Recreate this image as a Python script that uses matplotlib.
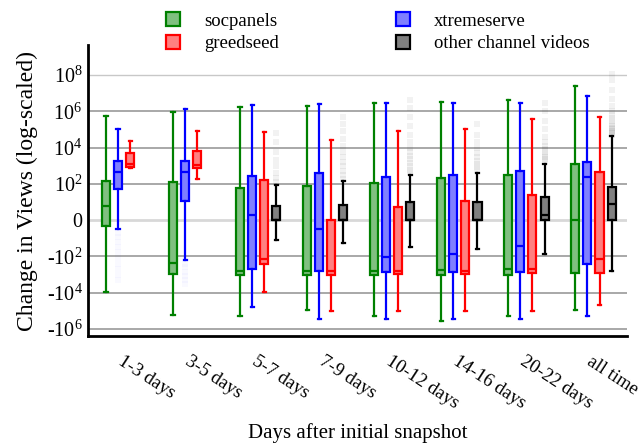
"""Grouped box plots of view changes per channel, symmetric log axis."""

import matplotlib
matplotlib.use("Agg")
import matplotlib.pyplot as plt
import matplotlib.transforms as mtransforms
import numpy as np
from matplotlib.lines import Line2D

plt.rcParams["font.family"] = ["Liberation Serif", "DejaVu Serif"]
plt.rcParams["mathtext.fontset"] = "custom"
plt.rcParams["mathtext.rm"] = "Liberation Serif"
plt.rcParams["mathtext.default"] = "regular"

categories = ["1-3 days", "3-5 days", "5-7 days", "7-9 days",
              "10-12 days", "14-16 days", "20-22 days", "all time"]

# per series: whislo, q1, med, q3, whishi for each category (None = no box)
socpanels = {
    "whishi": [5.6e5, 9e5, 1.8e6, 2e6, 2.7e6, 3.2e6, 4e6, 2.5e7],
    "q3":     [140, 128, 57, 72, 114, 200, 290, 1170],
    "med":    [5, -245, -650, -650, -650, -575, -500, 0],
    "q1":     [-1.1, -950, -1070, -1070, -1070, -1070, -1070, -790],
    "whislo": [-9000, -1.8e5, -1.95e5, -9e4, -1.95e5, -3.5e5, -1.86e5, -9e4],
}
xtremeserve = {
    "whishi": [1.1e5, 1.25e6, 2.3e6, 2.6e6, 2.95e6, 2.95e6, 2.8e6, 7e6],
    "q3":     [1700, 1860, 275, 370, 225, 300, 525, 1600],
    "med":    [450, 455, 1, -2.2, -104, -77, -25, 225],
    "q1":     [48, 10, -520, -650, -740, -710, -710, -270],
    "whislo": [-2.2, -160, -6.5e4, -3e5, -3e5, -3e5, -3e5, -1.95e5],
}
greedseed = {
    "whishi": [2.2e4, 8.3e4, 7e4, 2.6e4, 8.3e4, 1e5, 3.8e5, 4.8e5],
    "q3":     [5100, 6200, 160, 0, 4, 10.5, 23, 455],
    "med":    [1200, 1070, -140, -650, -650, -650, -500, -135],
    "q1":     [870, 790, -275, -1000, -950, -950, -870, -870],
    "whislo": [790, 190, -9000, -1e5, -1e5, -1e5, -1e5, -4.9e4],
}
other_videos = {
    "whishi": [None, None, 85, 134, 315, 410, 1300, 4.3e4],
    "q3":     [None, None, 5, 6, 9, 9, 17, 68],
    "med":    [None, None, 0, 0, 0, 0, 0.9, 6.6],
    "q1":     [None, None, 0, 0, 0, 0, 0, 0],
    "whislo": [None, None, -12, -18, -29, -37, -77, -650],
}

# faint outlier columns
other_fliers = [
    [],
    [],
    [120, 200, 400, 900, 2e3, 6e3, 2e4, 6e4],
    [180, 300, 500, 900, 1.5e3, 3e3, 6e3, 1.2e4, 3e4, 8e4, 2e5, 5e5],
    [420, 600, 900, 1.4e3, 2.2e3, 3.5e3, 6e3, 1e4, 2e4, 5e4, 1.5e5, 5e5, 1.5e6, 4e6],
    [550, 800, 1.2e3, 1.8e3, 3e3, 5e3, 9e3, 2e4, 5e4, 2e5],
    [1.7e3, 2.3e3, 3e3, 4e3, 5.5e3, 8e3, 1.2e4, 2e4, 4e4, 1e5, 3e5, 1e6, 3e6],
    [5e4, 6e4, 7e4, 8.5e4, 1e5, 1.2e5, 1.5e5, 2e5, 2.8e5, 4e5, 6e5, 1e6, 2e6,
     5e6, 1.5e7, 5e7, 1.2e8],
]
xtreme_fliers = [
    [-4, -8, -15, -30, -60, -120, -250, -500, -1000, -2000],
    [-250, -400, -700, -1200, -2000, -3500],
    [], [], [], [], [], [],
]

series = [
    ("socpanels", socpanels, "#008000", "#80c080"),
    ("xtremeserve", xtremeserve, "#0000ff", "#8080ff"),
    ("greedseed", greedseed, "#ff0000", "#ff8080"),
    ("other channel videos", other_videos, "#000000", "#808080"),
]
fliers = {"xtremeserve": (xtreme_fliers, 0.025),
          "other channel videos": (other_fliers, 0.05)}


def fwd(y):
    y = np.asarray(y, dtype=float)
    return np.sign(y) * np.log10(1.0 + np.abs(y))


def inv(t):
    t = np.asarray(t, dtype=float)
    return np.sign(t) * (10.0 ** np.abs(t) - 1.0)


fig = plt.figure(figsize=(6.44, 4.47), dpi=100)
ax = fig.add_axes([0.1366, 0.2483, 0.8370, 0.651])
ax.set_yscale("function", functions=(fwd, inv))

offsets = [-0.27, -0.09, 0.09, 0.27]
x = np.arange(len(categories))

for (name, d, edge, face), off in zip(series, offsets):
    stats, pos = [], []
    for i in range(len(categories)):
        if d["med"][i] is None:
            continue
        stats.append({
            "med": d["med"][i], "q1": d["q1"][i], "q3": d["q3"][i],
            "whislo": d["whislo"][i], "whishi": d["whishi"][i],
            "fliers": [],
        })
        pos.append(x[i] + off)
    ax.bxp(
        stats, positions=pos, widths=0.12, capwidths=0.05,
        patch_artist=True, showfliers=False, manage_ticks=False,
        boxprops=dict(facecolor=face, edgecolor=edge, linewidth=1.6),
        medianprops=dict(color=edge, linewidth=1.6),
        whiskerprops=dict(color=edge, linewidth=1.6),
        capprops=dict(color=edge, linewidth=1.6),
    )
    if name in fliers:
        flier_lists, alpha = fliers[name]
        for i, vals in enumerate(flier_lists):
            if not vals:
                continue
            ax.plot(np.full(len(vals), x[i] + off), vals, ls="none",
                    marker="s", ms=5, mew=0, color=edge, alpha=alpha,
                    zorder=1)

yticks = [1e8, 1e6, 1e4, 1e2, 0, -1e2, -1e4, -1e6]
ylabels = ["10$^{8}$", "10$^{6}$", "10$^{4}$", "10$^{2}$", "0",
           "-10$^{2}$", "-10$^{4}$", "-10$^{6}$"]
ax.set_yticks(yticks)
ax.set_yticklabels(ylabels, fontsize=14.5)
for yt in yticks:
    if yt == 0:
        ax.axhline(yt, color="#d8d8d8", lw=2.0, zorder=0)
    elif yt == 1e8:
        ax.axhline(yt, color="#c8c8c8", lw=1.0, zorder=0)
    else:
        ax.axhline(yt, color="#a8a8a8", lw=1.4, zorder=0)

ax.set_ylim(inv(-6.39), inv(9.65))
ax.set_xlim(-0.54, 7.5)
ax.set_xticks(x)
ax.set_xticklabels(categories, fontsize=13.5, rotation=-33, ha="left",
                   rotation_mode="anchor")
shift = mtransforms.ScaledTranslation(-8 / 100, 0, fig.dpi_scale_trans)
for lab in ax.get_xticklabels():
    lab.set_transform(lab.get_transform() + shift)
ax.tick_params(axis="both", length=0)
ax.tick_params(axis="x", pad=12)
ax.tick_params(axis="y", pad=4)

for side in ("top", "right"):
    ax.spines[side].set_visible(False)
for side in ("left", "bottom"):
    ax.spines[side].set_linewidth(2.0)
    ax.spines[side].set_color("black")

ax.set_ylabel("Change in Views (log-scaled)", fontsize=17, labelpad=6)
ax.set_xlabel("Days after initial snapshot", fontsize=15, labelpad=8)

handles = [
    Line2D([], [], ls="none", marker="s", ms=10, mew=1.6, mec=edge, mfc=face,
           label=name)
    for name, _, edge, face in (series[0], series[2], series[1], series[3])
]
fig.legend(handles=handles, ncol=2, loc="upper left",
           bbox_to_anchor=(0.214, 1.01), frameon=False, fontsize=13.5,
           handletextpad=0.65, columnspacing=5.6, labelspacing=0.3)

fig.savefig("out.png", dpi=100)
